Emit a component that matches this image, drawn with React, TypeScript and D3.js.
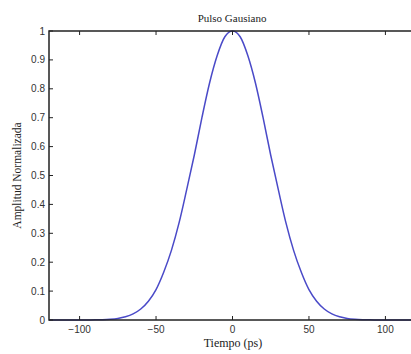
import React from 'react';
import * as d3 from 'd3';

const tiempo = [
  -120, -115, -110, -105, -100, -95, -90, -85, -80, -75, -70, -65, -60, -55, -50, -45, -40, -35, -30, -25, -20, -15, -10, -5,
  0, 5, 10, 15, 20, 25, 30, 35, 40, 45, 50, 55, 60, 65, 70, 75, 80, 85, 90, 95, 100, 105, 110, 115, 120,
];
const amplitud = [
  0, 0, 0, 0, 0, 0.0002, 0.0005, 0.0012, 0.0027, 0.0055, 0.011, 0.021, 0.038, 0.065, 0.105, 0.165, 0.24, 0.335, 0.45, 0.57, 0.7, 0.82, 0.915, 0.98,
  1, 0.98, 0.915, 0.82, 0.7, 0.57, 0.45, 0.335, 0.24, 0.165, 0.105, 0.065, 0.038, 0.021, 0.011, 0.0055, 0.0027, 0.0012, 0.0005, 0.0002, 0, 0, 0, 0, 0,
];
const xTicks = [-100, -50, 0, 50, 100];
const yTicks = [0, 0.1, 0.2, 0.3, 0.4, 0.5, 0.6, 0.7, 0.8, 0.9, 1];

const width = 411;
const height = 354;
const left = 49;
const right = 416;
const top = 31;
const bottom = 320;

export default function App() {
  const x = d3.scaleLinear().domain([-120, 120]).range([left, right]);
  const y = d3.scaleLinear().domain([0, 1]).range([bottom, top]);

  const data = tiempo.map((t, i) => ({ t, a: amplitud[i] }));
  const line = d3
    .line<{ t: number; a: number }>()
    .x(d => x(d.t))
    .y(d => y(d.a))
    .curve(d3.curveMonotoneX);

  const tickFont = 'Liberation Sans, Arial, sans-serif';
  const serif = 'Liberation Serif, Times New Roman, serif';

  return (
    <div style={{ position: 'absolute', left: 0, top: 0 }}>
      <svg width={width} height={height} style={{ display: 'block', background: '#fff' }}>
        <path d={line(data) || ''} fill="none" stroke="#4a4ac8" strokeWidth={1.5} />

        {/* caja */}
        <rect x={left} y={top} width={right - left} height={bottom - top} fill="none" stroke="#222" strokeWidth={1.5} />

        {xTicks.map(t => (
          <g key={'x' + t}>
            <line x1={x(t)} x2={x(t)} y1={bottom} y2={bottom - 4} stroke="#222" />
            <line x1={x(t)} x2={x(t)} y1={top} y2={top + 4} stroke="#222" />
            <text x={x(t)} y={333} textAnchor="middle" fontSize={10} fontFamily={tickFont} fill="#333">
              {t < 0 ? '\u2212' + Math.abs(t) : t}
            </text>
          </g>
        ))}

        {yTicks.map(v => (
          <g key={'y' + v}>
            <line x1={left} x2={left + 4} y1={y(v)} y2={y(v)} stroke="#222" />
            <line x1={right} x2={right - 4} y1={y(v)} y2={y(v)} stroke="#222" />
            <text x={45} y={y(v) + 3.5} textAnchor="end" fontSize={10} fontFamily={tickFont} fill="#333">
              {v}
            </text>
          </g>
        ))}

        <text x={232} y={22} textAnchor="middle" fontSize={11} fontFamily={serif} fill="#222">
          Pulso Gausiano
        </text>
        <text x={233} y={347} textAnchor="middle" fontSize={12} fontFamily={serif} fill="#222">
          Tiempo (ps)
        </text>
        <text
          transform={`translate(21,${(top + bottom) / 2}) rotate(-90)`}
          textAnchor="middle"
          fontSize={11.5}
          fontFamily={serif}
          fill="#222"
        >
          Amplitud Normalizada
        </text>
      </svg>
    </div>
  );
}
